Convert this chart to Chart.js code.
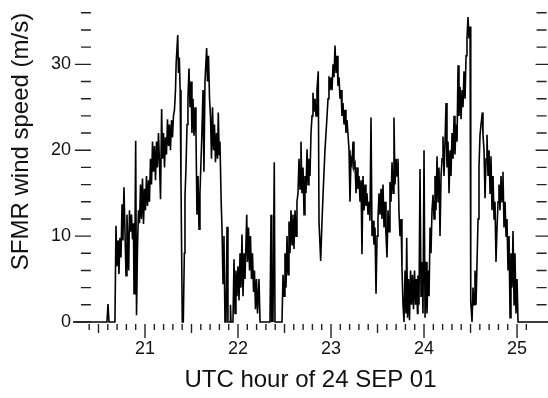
<!DOCTYPE html>
<html>
<head>
<meta charset="utf-8">
<script src="https://cdn.jsdelivr.net/npm/chart.js"></script>
<style>
  body { margin: 0; background: #fff; }
</style>
</head>
<body>
<canvas id="sfmrChart" width="548" height="398"></canvas>
<script>
// SFMR surface wind speed, 24 SEP 01 (hours UTC, m/s)
let hours = [
  20.226, 20.591, 20.602, 20.613, 20.677, 20.688, 20.699, 20.710, 20.720, 20.731,
  20.742, 20.753, 20.763, 20.774, 20.785, 20.796, 20.806, 20.817, 20.825, 20.833,
  20.844, 20.855, 20.866, 20.876, 20.882, 20.892, 20.900, 20.909, 20.919, 20.930,
  20.941, 20.952, 20.962, 20.973, 20.984, 20.995, 21.005, 21.016, 21.027, 21.038,
  21.048, 21.059, 21.070, 21.081, 21.091, 21.102, 21.113, 21.124, 21.134, 21.145,
  21.156, 21.167, 21.179, 21.188, 21.199, 21.210, 21.220, 21.231, 21.242, 21.253,
  21.263, 21.274, 21.285, 21.296, 21.306, 21.317, 21.328, 21.335, 21.352, 21.360,
  21.369, 21.378, 21.387, 21.401, 21.412, 21.423, 21.430, 21.441, 21.452, 21.462,
  21.473, 21.484, 21.495, 21.505, 21.516, 21.527, 21.538, 21.548, 21.559, 21.570,
  21.581, 21.591, 21.610, 21.624, 21.634, 21.645, 21.663, 21.672, 21.683, 21.694,
  21.704, 21.715, 21.726, 21.737, 21.747, 21.758, 21.769, 21.780, 21.788, 21.798,
  21.806, 21.819, 21.828, 21.839, 21.849, 21.860, 21.871, 21.882, 21.892, 21.914,
  21.919, 21.925, 21.946, 21.957, 21.968, 21.978, 21.989, 22.000, 22.011, 22.022,
  22.032, 22.043, 22.054, 22.065, 22.075, 22.094, 22.102, 22.113, 22.124, 22.134,
  22.145, 22.156, 22.167, 22.177, 22.188, 22.199, 22.210, 22.226, 22.237, 22.344,
  22.355, 22.363, 22.369, 22.376, 22.390, 22.398, 22.473, 22.484, 22.495, 22.505,
  22.516, 22.527, 22.538, 22.548, 22.559, 22.570, 22.581, 22.591, 22.602, 22.613,
  22.624, 22.634, 22.645, 22.656, 22.667, 22.677, 22.688, 22.699, 22.710, 22.720,
  22.731, 22.742, 22.753, 22.763, 22.774, 22.785, 22.796, 22.806, 22.817, 22.828,
  22.839, 22.849, 22.863, 22.871, 22.889, 22.903, 22.919, 22.935, 22.952, 22.968,
  22.978, 22.989, 23.000, 23.011, 23.022, 23.032, 23.043, 23.054, 23.065, 23.075,
  23.086, 23.097, 23.108, 23.118, 23.129, 23.140, 23.151, 23.161, 23.172, 23.183,
  23.194, 23.204, 23.215, 23.226, 23.237, 23.247, 23.258, 23.269, 23.280, 23.290,
  23.301, 23.312, 23.323, 23.333, 23.344, 23.355, 23.366, 23.376, 23.387, 23.398,
  23.409, 23.419, 23.430, 23.441, 23.452, 23.462, 23.473, 23.484, 23.495, 23.505,
  23.516, 23.527, 23.538, 23.548, 23.559, 23.570, 23.581, 23.591, 23.602, 23.613,
  23.624, 23.634, 23.645, 23.656, 23.667, 23.677, 23.688, 23.699, 23.710, 23.720,
  23.731, 23.742, 23.753, 23.763, 23.774, 23.785, 23.796, 23.806, 23.814, 23.823,
  23.833, 23.844, 23.855, 23.866, 23.876, 23.887, 23.898, 23.909, 23.919, 23.930,
  23.935, 23.946, 23.957, 23.968, 23.978, 23.989, 24.000, 24.011, 24.022, 24.032,
  24.043, 24.054, 24.065, 24.075, 24.086, 24.097, 24.108, 24.118, 24.129, 24.140,
  24.151, 24.161, 24.172, 24.183, 24.194, 24.204, 24.215, 24.226, 24.237, 24.247,
  24.258, 24.269, 24.280, 24.290, 24.301, 24.312, 24.323, 24.333, 24.344, 24.355,
  24.366, 24.376, 24.387, 24.398, 24.409, 24.419, 24.430, 24.441, 24.452, 24.462,
  24.473, 24.484, 24.495, 24.500, 24.505, 24.516, 24.527, 24.538, 24.548, 24.559,
  24.570, 24.581, 24.591, 24.602, 24.613, 24.627, 24.634, 24.645, 24.656, 24.667,
  24.677, 24.688, 24.699, 24.710, 24.720, 24.731, 24.742, 24.753, 24.763, 24.774,
  24.785, 24.796, 24.806, 24.817, 24.828, 24.839, 24.849, 24.860, 24.871, 24.882,
  24.892, 24.903, 24.914, 24.925, 24.935, 24.946, 24.957, 24.968, 24.978, 24.989,
  25.000, 25.011, 25.333
];

let windSpeed = [
  0, 0, 2.1, 0, 0, 11.2, 6.5, 9.5, 5.6, 9.8,
  7.5, 13.7, 9.5, 15.7, 10.5, 5.4, 12.5, 9.0, 6.0, 13.0,
  10.5, 12.5, 9.6, 11.5, 3.3, 10.0, 21.1, 0.8, 8.5, 13.0,
  11.5, 16.0, 12.0, 16.7, 11.4, 15.5, 13.0, 17.0, 13.5, 16.5,
  14.0, 19.0, 16.0, 21.0, 17.5, 20.5, 16.5, 21.0, 18.0, 22.0,
  18.5, 14.3, 24.8, 19.0, 22.0, 18.0, 21.5, 19.5, 23.6, 20.5,
  23.0, 20.0, 23.5, 21.5, 24.0, 24.7, 27.0, 30.1, 33.4, 29.0,
  30.8, 27.0, 16.3, 0, 0, 8, 14.6, 18, 23, 26,
  29.5, 25, 28, 22, 26, 21.7, 25, 22, 12.5, 17,
  10.8, 15, 21.3, 27, 17.5, 28, 31.9, 28, 31, 26,
  24, 19, 25, 20, 23, 18.6, 22, 19, 24.4, 19.5,
  21, 14, 10.9, 4.5, 10, 0, 0, 11.1, 0, 0,
  2, 0, 0, 7.3, 1, 6, 3, 6.5, 2.5, 8,
  4, 10.2, 3, 8, 5, 12.5, 7, 11, 6, 10,
  5, 8, 3.5, 6, 1.5, 5, 1, 5, 0, 0,
  12.5, 0, 2, 0, 18.6, 0, 0, 5.5, 3, 8,
  4, 10, 5.5, 11.7, 8, 13, 9, 12.5, 8.5, 13,
  10, 14, 15, 19, 15.5, 21, 15, 18, 12.5, 17,
  15, 20.1, 16, 19, 17, 22, 24, 26.7, 24.5, 26,
  24, 27, 29.2, 11.7, 7.1, 11.7, 16, 20, 23, 26,
  28.6, 27, 28.5, 27, 30, 28.5, 32.2, 29, 31, 27.5,
  28.5, 26, 27, 24, 25.5, 23, 24.7, 22, 23.5, 21.8,
  20, 14, 19, 18.4, 21, 18, 18.4, 15, 18, 15.5,
  17, 14, 16.5, 7.9, 17, 13, 16, 13.5, 15, 12.5,
  14, 11.8, 23.8, 10, 11.8, 9, 11, 3.3, 10, 12,
  15, 12.5, 15.5, 12, 16, 11, 14, 10.2, 7.5, 13,
  10.5, 16.3, 14, 18.6, 15, 23.8, 16, 19, 17, 19,
  12.7, 10, 12, 6.3, 2, 0, 6, 1, 9.8, 0.5,
  5, 0.2, 6, 2, 5.5, 1.5, 6, 2, 5, 1,
  5.4, 2, 17.8, 3, 7, 1, 20, 0.5, 7, 1,
  6, 3, 11, 8, 13, 14.8, 12, 17, 13, 19.3,
  14, 18, 10, 17, 19, 21.6, 17, 21, 25.5, 18,
  21, 15, 20, 17, 22, 19, 24, 19.5, 23, 21,
  29.9, 24, 27.4, 23.6, 27, 25, 29.2, 26, 31, 33,
  35.5, 33, 34.4, 31, 2.4, 0, 4, 2, 6, 2,
  7, 12, 18, 21.8, 23, 24.4, 21.8, 20, 14.4, 19,
  21.8, 17, 20, 15, 19.3, 13, 17, 12, 14, 7,
  11, 14, 16, 13, 17, 14, 17.5, 11, 14, 10,
  12, 6, 10, 0.5, 8, 4, 10.6, 2, 8, 1,
  5, 0, 0
];

let xTickLabels = [21, 22, 23, 24, 25];
let yTickLabels = [0, 10, 20, 30];
let yMinorTicks = [2, 4, 6, 8, 12, 14, 16, 18, 22, 24, 26, 28, 32, 34, 36];
let xMinorTicks = [];
for (let i = 204; i <= 251; i++) xMinorTicks.push(i / 10);

// where the floating tick rows sit, in hours
let leftAxisHour = 20.419;
let rightAxisHour = 25.21;

// the figure has no axis lines, only rows of tick marks
const tickMarks = {
  id: 'tickMarks',
  afterDatasetsDraw(chart) {
    const ctx = chart.ctx;
    const x = chart.scales.x, y = chart.scales.y;
    const y0 = y.getPixelForValue(0);
    const left = x.getPixelForValue(leftAxisHour);
    const right = x.getPixelForValue(rightAxisHour);
    ctx.save();
    ctx.strokeStyle = '#222';
    ctx.lineWidth = 1.4;
    ctx.beginPath();
    xMinorTicks.forEach(v => {
      const px = x.getPixelForValue(v);
      const n = Math.round(v * 10);
      const len = n % 10 === 0 ? 14 : (n % 5 === 0 ? 9 : 6);
      ctx.moveTo(px, y0 + 2);
      ctx.lineTo(px, y0 + 2 + len);
    });
    yMinorTicks.forEach(v => {
      const py = y.getPixelForValue(v);
      ctx.moveTo(left - 10, py);
      ctx.lineTo(left, py);
      ctx.moveTo(right, py);
      ctx.lineTo(right + 10, py);
    });
    yTickLabels.forEach(v => {
      const py = y.getPixelForValue(v);
      ctx.moveTo(left - 16, py);
      ctx.lineTo(left, py);
      if (v > 0) {
        ctx.moveTo(right - 1, py);
        ctx.lineTo(right + 12, py);
      }
    });
    ctx.stroke();
    ctx.restore();
  }
};

Chart.defaults.font.family = "'Liberation Sans', Arial, sans-serif";
Chart.defaults.color = '#111';

let ctx = document.getElementById('sfmrChart').getContext('2d');
let sfmrChart = new Chart(ctx, {
  type: 'line',
  data: {
    datasets: [{
      data: hours.map((h, i) => ({ x: h, y: windSpeed[i] })),
      borderColor: '#000',
      borderWidth: 1.6,
      pointRadius: 0,
      tension: 0,
      clip: false
    }]
  },
  options: {
    responsive: false,
    animation: false,
    layout: { padding: { top: 8, right: 0, left: 0, bottom: 0 } },
    plugins: { legend: { display: false }, tooltip: { enabled: false } },
    scales: {
      x: {
        type: 'linear',
        min: 20.226,
        max: 25.333,
        afterFit: s => { s.height = 76; },
        afterBuildTicks: s => { s.ticks = xTickLabels.map(v => ({ value: v })); },
        grid: { display: false, drawTicks: false },
        border: { display: false },
        ticks: { padding: 16, font: { size: 18 }, maxRotation: 0, autoSkip: false },
        title: { display: true, text: 'UTC hour of 24 SEP 01', font: { size: 24 }, padding: { top: 0, bottom: 3 } }
      },
      y: {
        min: 0,
        max: 36,
        afterFit: s => { s.width = 73; },
        afterBuildTicks: s => { s.ticks = yTickLabels.map(v => ({ value: v })); },
        grid: { display: false, drawTicks: false },
        border: { display: false },
        ticks: { padding: 2, font: { size: 18 } },
        title: { display: true, text: 'SFMR wind speed (m/s)', align: 'end', font: { size: 24 }, padding: { top: 7, bottom: 0 } }
      }
    }
  },
  plugins: [tickMarks]
});
</script>
</body>
</html>
